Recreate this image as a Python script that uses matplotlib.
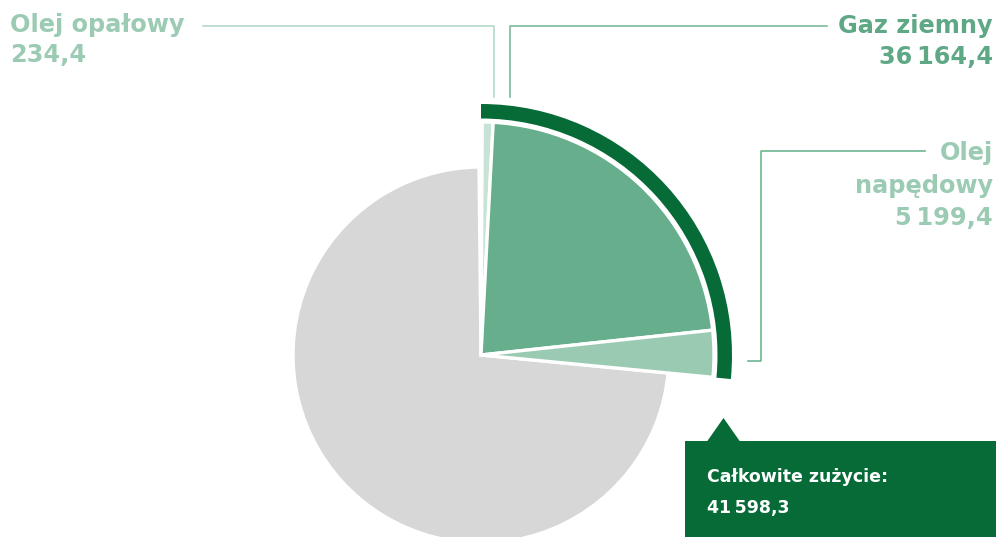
import matplotlib
matplotlib.use("Agg")
import matplotlib.pyplot as plt
from matplotlib.patches import Wedge, Rectangle, Polygon

# ---- data ----
categories = ["Olej opałowy", "Gaz ziemny", "Olej napędowy"]
values = [234.4, 36164.4, 5199.4]
label_lines = [["Olej opałowy"], ["Gaz ziemny"], ["Olej", "napędowy"]]
total_label = "Całkowite zużycie:"
total_value = 41598.3

# ---- style ----
slice_colors = ["#c6e3d5", "#67ae8c", "#9bcab3"]
text_colors = ["#9ccbb4", "#5fa885", "#9ccbb4"]
line_colors = ["#b5d9c7", "#7dbb9c", "#6fb592"]
grey = "#d7d7d7"
dark = "#066b37"
FONT = "DejaVu Sans"


def fmt(v):
    s = f"{v:,.1f}"
    return s.replace(",", "\u2009").replace(".", ",")


W, H = 999, 537
fig = plt.figure(figsize=(W / 100, H / 100), dpi=100)
ax = fig.add_axes([0, 0, 1, 1])
ax.set_xlim(0, W)
ax.set_ylim(0, H)
ax.set_aspect("equal")
ax.axis("off")


def Y(p):
    return H - p


cx, cy = 481, Y(355)
r_pie = 233
r_grey = 188
start = 89.7
span = 95.2
min_ang = 2.7

# angles from data (tiny slice given a minimum visible angle)
k = span / sum(values)
a0 = max(values[0] * k, min_ang)
rest = sum(values[1:])
angles = [a0] + [v / rest * (span - a0) for v in values[1:]]

cur = start
for a, c in zip(angles, slice_colors):
    ax.add_patch(Wedge((cx, cy), r_pie, cur - a, cur, facecolor=c,
                       edgecolor="white", linewidth=2.4, zorder=3))
    cur -= a
end = cur

# grey remainder
ax.add_patch(Wedge((cx, cy), r_grey, 90.6, end + 360, facecolor=grey,
                   edgecolor="white", linewidth=2.4, zorder=2))

# outer dark arc
ax.add_patch(Wedge((cx, cy), 251, end, 90, width=14.5, facecolor=dark,
                   edgecolor="none", zorder=3))

# leader lines
lw = 1.2
ax.plot([203, 494, 494], [Y(25.7), Y(25.7), Y(97)], color=line_colors[0], lw=lw, zorder=1)
ax.plot([827, 510, 510], [Y(25.7), Y(25.7), Y(97)], color=line_colors[1], lw=lw, zorder=1)
ax.plot([925, 761, 761, 748], [Y(150.7), Y(150.7), Y(361), Y(361)],
        color=line_colors[2], lw=lw, zorder=1)

# labels
fs = 17.3
# Olej opałowy (left aligned)
lines0 = label_lines[0] + [fmt(values[0])]
for i, t in enumerate(lines0):
    ax.text(10, Y(32 + i * 29.5), t, fontsize=fs, fontweight="bold", family=FONT,
            color=text_colors[0], ha="left", va="baseline")
# Gaz ziemny (right aligned)
lines1 = label_lines[1] + [fmt(values[1])]
for i, t in enumerate(lines1):
    ax.text(993, Y(32.5 + i * 31), t, fontsize=fs, fontweight="bold", family=FONT,
            color=text_colors[1], ha="right", va="baseline")
# Olej napędowy (right aligned)
lines2 = label_lines[2] + [fmt(values[2])]
for i, t in enumerate(lines2):
    ax.text(993, Y(160 + i * 32.5), t, fontsize=fs, fontweight="bold", family=FONT,
            color=text_colors[2], ha="right", va="baseline")

# total box
ax.add_patch(Rectangle((685, Y(537)), 311, 537 - 441, facecolor=dark,
                       edgecolor="none", zorder=4))
ax.add_patch(Polygon([(707, Y(441.5)), (740, Y(441.5)), (723.5, Y(418))],
                     closed=True, facecolor=dark, edgecolor="none", zorder=4))
ax.text(707, Y(482), total_label, fontsize=12.5, fontweight="bold", family=FONT,
        color="white", ha="left", va="baseline", zorder=5)
ax.text(707, Y(513), fmt(total_value), fontsize=12.5, fontweight="bold", family=FONT,
        color="white", ha="left", va="baseline", zorder=5)

fig.savefig("out.png", dpi=100, facecolor="white")
